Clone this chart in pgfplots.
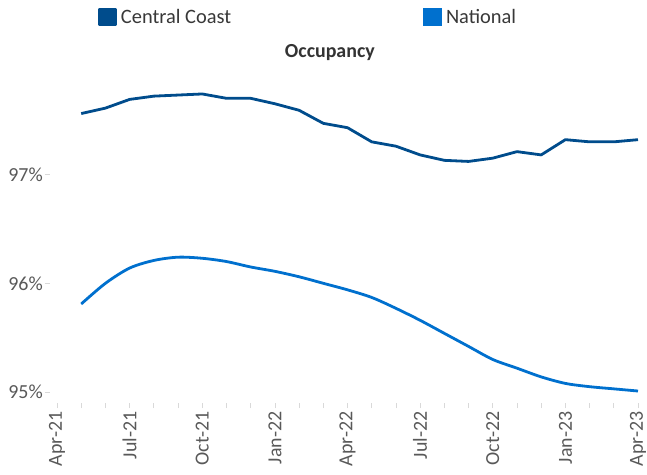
\documentclass[border=0pt]{standalone}
\usepackage{fontspec}
\setmainfont{Carlito}
\usepackage{pgfplots}
\pgfplotsset{compat=1.18}
\definecolor{cc}{HTML}{004C8C}
\definecolor{nat}{HTML}{0070CE}
\definecolor{lab}{HTML}{595959}
\definecolor{tk}{HTML}{D9D9D9}
\begin{document}
\begin{tikzpicture}
\path[use as bounding box] (0,0) rectangle (647bp,475bp);
\begin{axis}[
  at={(50bp,72bp)}, anchor=south west,
  scale only axis, width=588bp, height=321bp,
  xmin=-0.29, xmax=24, ymin=94.9, ymax=97.85,
  axis lines*=left,
  axis line style={draw=none},
  xtick={0,3,...,24},
  minor xtick={1,2,4,5,7,8,10,11,13,14,16,17,19,20,22,23},
  xticklabels={Apr-21,Jul-21,Oct-21,Jan-22,Apr-22,Jul-22,Oct-22,Jan-23,Apr-23},
  ytick={95,96,97}, yticklabels={95\%,96\%,97\%},
  tick align=outside, major tick length=5bp, minor tick length=5bp,
  every tick/.style={draw=tk, line width=0.75bp},
  minor tick style={draw=tk, line width=0.75bp},
  tick label style={font=\fontsize{20}{24}\selectfont, text=lab},
  x tick label style={rotate=90, anchor=east},
  y tick label style={inner sep=2bp},
  /pgf/number format/assume math mode=true,
  clip=false,
  title={Occupancy},
  title style={font=\bfseries\fontsize{20}{24}\selectfont, text=black!80, at={(0.476,1.0592)}, anchor=base},
  legend columns=2,
  legend style={at={(0.0816,1.2025)}, anchor=west, draw=none, fill=none, inner sep=0pt,
    font=\fontsize{20.5}{24}\selectfont, text=black!78,
    /tikz/every even column/.append style={column sep=190bp},
    /tikz/every odd column/.append style={column sep=2bp}},
  legend image code/.code={\fill[#1] (0bp,-8bp) rectangle (16bp,8bp);},
]
\addplot[color=cc, line width=2.8bp, line join=round] coordinates {
(1,97.56) (2,97.61) (3,97.69) (4,97.72) (5,97.73) (6,97.74) (7,97.70) (8,97.70)
(9,97.65) (10,97.59) (11,97.47) (12,97.43) (13,97.30) (14,97.26) (15,97.18) (16,97.13)
(17,97.12) (18,97.15) (19,97.21) (20,97.18) (21,97.32) (22,97.30) (23,97.30) (24,97.32)
};
\addlegendentry{Central Coast}
\addplot[color=nat, line width=2.8bp, smooth, tension=0.5] coordinates {
(1,95.81) (2,96.00) (3,96.14) (4,96.21) (5,96.24) (6,96.23) (7,96.20) (8,96.15)
(9,96.11) (10,96.06) (11,96.00) (12,95.94) (13,95.87) (14,95.77) (15,95.66) (16,95.54)
(17,95.42) (18,95.30) (19,95.22) (20,95.14) (21,95.08) (22,95.05) (23,95.03) (24,95.01)
};
\addlegendentry{National}
\end{axis}
\end{tikzpicture}
\end{document}
